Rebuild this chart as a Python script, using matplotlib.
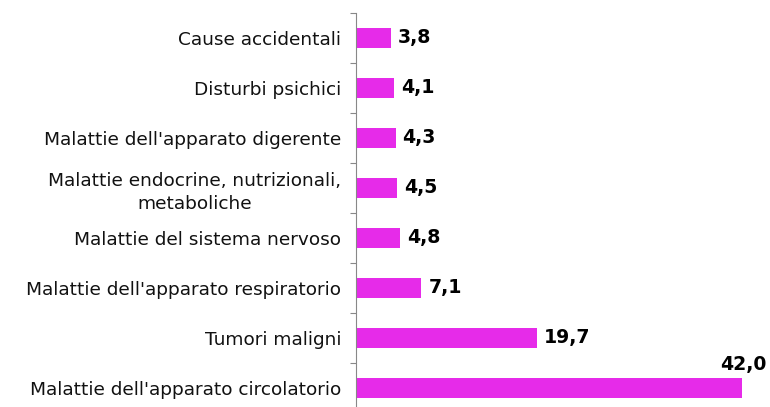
import numpy as np
import matplotlib
matplotlib.use('Agg')
import matplotlib.pyplot as plt

# categorie dall'alto verso il basso
categorie = ['Cause accidentali',
             'Disturbi psichici',
             "Malattie dell'apparato digerente",
             'Malattie endocrine, nutrizionali,\nmetaboliche',
             'Malattie del sistema nervoso',
             "Malattie dell'apparato respiratorio",
             'Tumori maligni',
             "Malattie dell'apparato circolatorio"]
valori = [3.8, 4.1, 4.3, 4.5, 4.8, 7.1, 19.7, 42.0]
etichette = ['3,8', '4,1', '4,3', '4,5', '4,8', '7,1', '19,7', '42,0']

plt.rcParams['font.family'] = ['DejaVu Sans']

fig = plt.figure(figsize=(7.7, 4.07), dpi=100)
ax = fig.add_axes([356 / 770, 1 - 413 / 407, 1 - 356 / 770, 400 / 407])

n = len(categorie)
pos = np.arange(n)[::-1]  # first category on top
ax.barh(pos, valori, height=0.4, color='#E62BE9', zorder=2)

ax.set_xlim(0, 45)
ax.set_ylim(-0.5, n - 0.5)

# tick marks between categories, labels at centers
ax.set_yticks(np.arange(n + 1) - 0.5)
ax.set_yticklabels([])
ax.set_yticks(pos, minor=True)
ax.set_yticklabels(categorie, minor=True, fontsize=13.3, color='#111111',
                   multialignment='center', linespacing=1.35)
ax.tick_params(axis='y', which='major', length=4, color='#888888', direction='out')
ax.tick_params(axis='y', which='minor', length=0, pad=10.5)
ax.set_xticks([])

for s in ['top', 'right', 'bottom']:
    ax.spines[s].set_visible(False)
ax.spines['left'].set_color('#888888')

for p, v, t in zip(pos, valori, etichette):
    if v > 40:
        ax.annotate(t, xy=(v, p + 0.2), xytext=(17, 3), textcoords='offset points',
                    ha='right', va='bottom', fontsize=13.6, fontweight='bold')
    else:
        ax.annotate(t, xy=(v, p), xytext=(5, 0), textcoords='offset points',
                    ha='left', va='center', fontsize=13.6, fontweight='bold')

fig.savefig('out.png', dpi=100)
